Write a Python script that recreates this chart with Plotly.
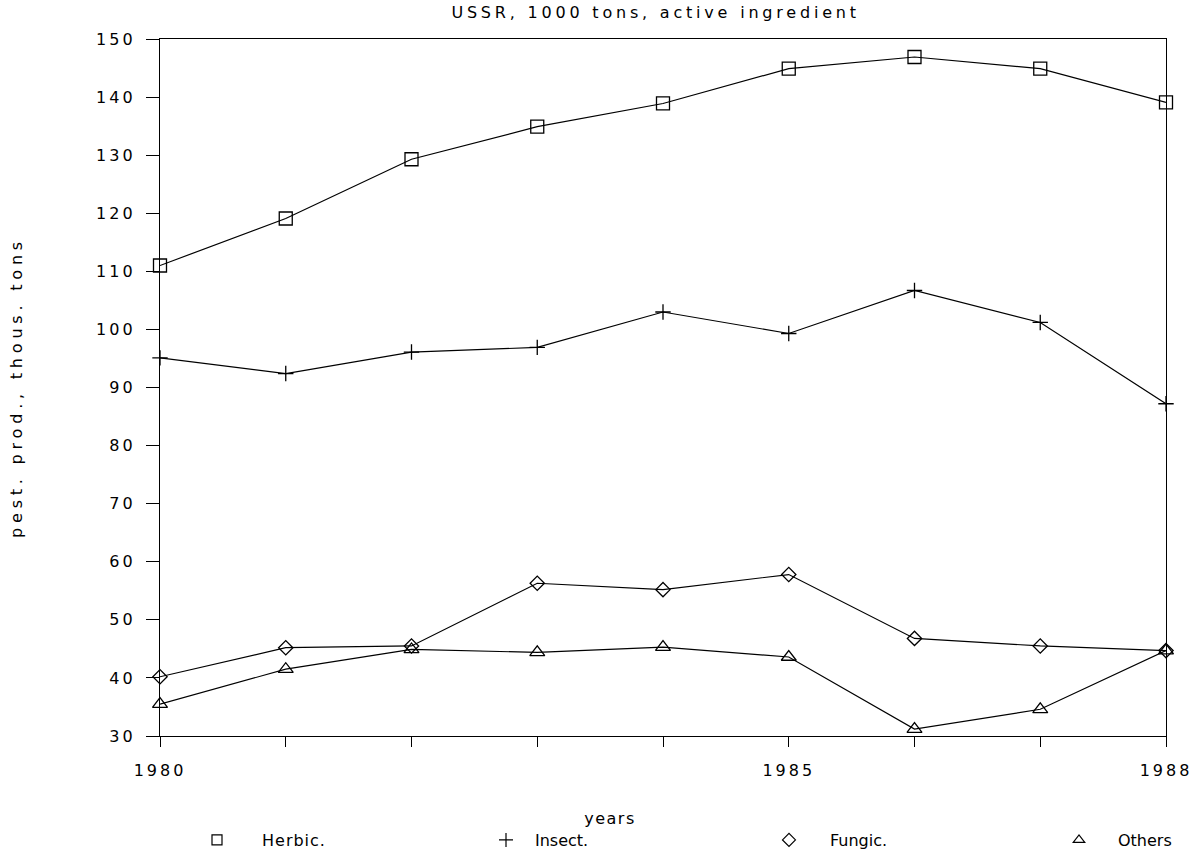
import plotly.graph_objects as go

years = [1980, 1981, 1982, 1983, 1984, 1985, 1986, 1987, 1988]
herbic = [111.0, 119.1, 129.3, 134.9, 138.9, 144.9, 146.9, 144.9, 139.1]
insect = [95.1, 92.4, 96.1, 96.9, 103.0, 99.3, 106.7, 101.2, 87.2]
fungic = [40.2, 45.2, 45.5, 56.3, 55.2, 57.8, 46.8, 45.5, 44.7]
others = [35.5, 41.5, 44.9, 44.4, 45.3, 43.6, 31.2, 34.6, 44.7]

series_names = ["Herbic.", "Insect.", "Fungic.", "Others"]
x_tick_text = ["1980", "", "", "", "", "1985", "", "", "1988"]
y_ticks = [30, 40, 50, 60, 70, 80, 90, 100, 110, 120, 130, 140, 150]

FONT = "DejaVu Sans"
symbols = ["square-open", "cross-thin-open", "diamond-open", "triangle-up-open"]
sizes = [13, 11, 11, 13]
data = [herbic, insect, fungic, others]
legend_ids = ["legend", "legend2", "legend3", "legend4"]

# page body margin is removed in post_script, so figure pixels == page pixels
W, H = 1204, 856
L, R, T, B = 160, 1166, 39, 736

def px_x(p):
    return (p - L) / (R - L)

def px_y(p):
    return (B - p) / (B - T)

fig = go.Figure()
for name, vals, sym, sz in zip(series_names, data, symbols, sizes):
    fig.add_trace(go.Scatter(
        x=years, y=vals, mode="lines+markers", name=name, showlegend=False,
        line=dict(color="black", width=1.2),
        marker=dict(symbol=sym, size=sz, color="black", line=dict(color="black", width=1.3)),
        cliponaxis=False,
    ))
for name, sym, sz, lid in zip(series_names, symbols, sizes, legend_ids):
    fig.add_trace(go.Scatter(
        x=[None], y=[None], mode="markers", name=name, showlegend=True, legend=lid,
        marker=dict(symbol=sym, size=10, color="black", line=dict(color="black", width=1.2)),
    ))

legend_left = [172, 477, 748, 1040]
legend_itemw = [80, 48, 72, 68]
legend_top = 823

layout_legends = {}
for lid, lx, iw in zip(legend_ids, legend_left, legend_itemw):
    layout_legends[lid] = dict(
        orientation="h", xref="container", yref="container",
        x=lx / W, y=(H - legend_top) / H, xanchor="left", yanchor="top",
        itemwidth=iw, font=dict(family=FONT, size=16, color="black"),
        bgcolor="rgba(0,0,0,0)",
    )

fig.update_layout(
    width=W, height=H, autosize=False,
    margin=dict(l=L, r=W - R, t=T, b=H - B),
    paper_bgcolor="white", plot_bgcolor="white",
    font=dict(family=FONT, size=16, color="black"),
    showlegend=True,
    annotations=[
        dict(text="USSR, 1000 tons, active ingredient", xref="paper", yref="paper",
             x=px_x(655), y=px_y(13), xanchor="center", yanchor="middle",
             showarrow=False, font=dict(family=FONT, size=16)),
        dict(text="years", xref="paper", yref="paper",
             x=px_x(610), y=px_y(818), xanchor="center", yanchor="middle",
             showarrow=False, font=dict(family=FONT, size=16)),
    ],
    **layout_legends,
)

fig.update_xaxes(
    range=[1980, 1988], tickvals=years, ticktext=x_tick_text,
    ticks="outside", ticklen=10, tickwidth=1, tickcolor="black",
    showline=True, linecolor="black", linewidth=1.3, mirror=True,
    showgrid=False, zeroline=False, ticklabelstandoff=10,
    tickfont=dict(family=FONT, size=16),
)
fig.update_yaxes(
    range=[30, 150], tickvals=y_ticks,
    ticks="outside", ticklen=13, tickwidth=1, tickcolor="black",
    showline=True, linecolor="black", linewidth=1.3, mirror=True,
    showgrid=False, zeroline=False, ticklabelstandoff=7,
    tickfont=dict(family=FONT, size=16),
    title=dict(text="pest. prod., thous. tons", standoff=78, font=dict(family=FONT, size=16)),
)

# remove the browser's default body margin, and emulate the reference's tracked lettering
post_js = """
document.body.style.margin = '0';
var gd = document.getElementById('{plot_id}');
function ls(sel, v) { gd.querySelectorAll(sel).forEach(function(t) { t.style.letterSpacing = v; }); }
ls('.xtick text', '3px');
ls('.ytick text', '3px');
ls('.ytitle', '4.8px');
ls('g.annotation[data-index="0"] text', '3.8px');
ls('g.annotation[data-index="1"] text', '1.5px');
ls('.legendtext', '1px');
"""

fig.write_html("out.html", post_script=post_js, config={"displayModeBar": False})
